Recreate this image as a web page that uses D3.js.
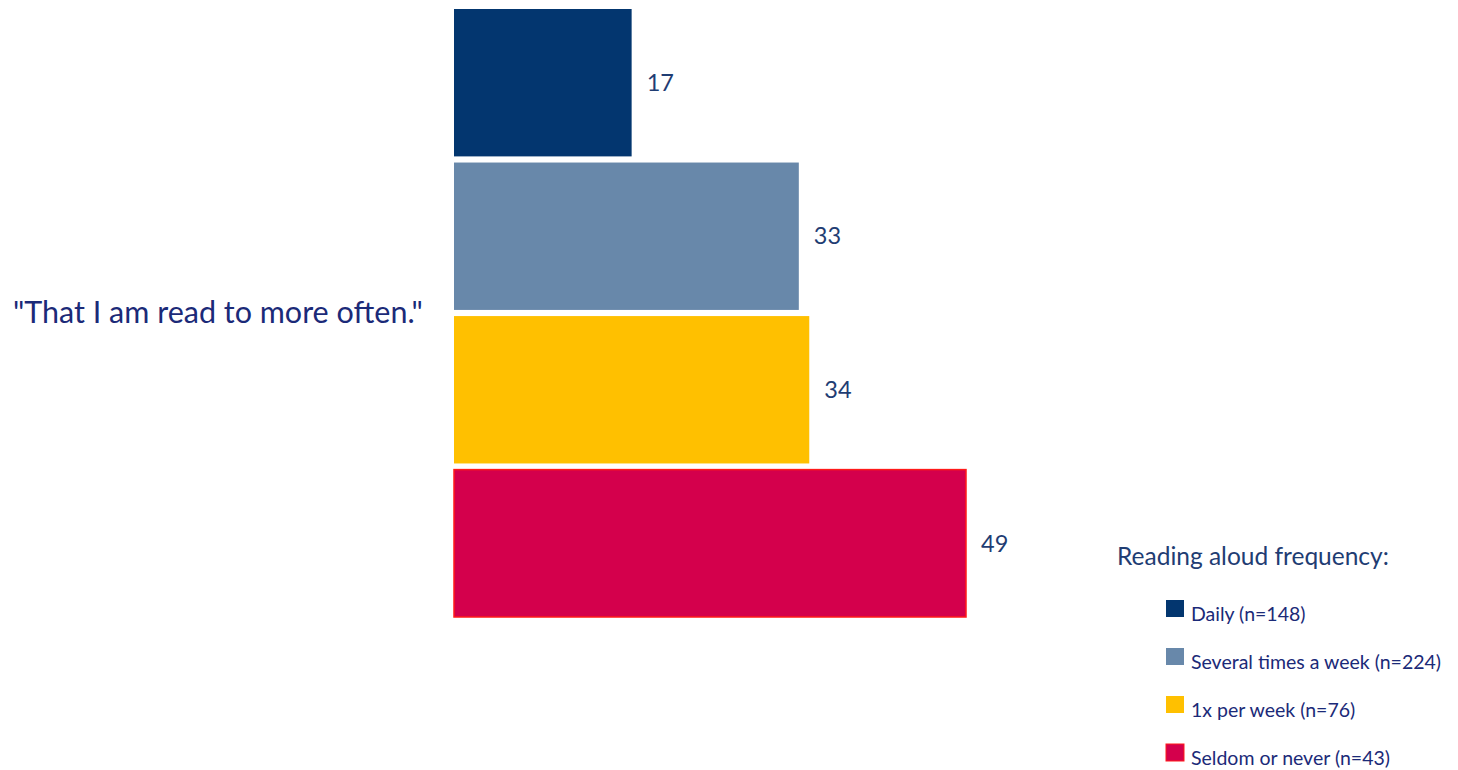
<!DOCTYPE html>
<html>
<head>
<meta charset="utf-8">
<script src="https://cdn.jsdelivr.net/npm/d3@7"></script>
<style>
  body { margin: 0; background: #fff; }
  text { font-family: Lato, "Noto Sans", sans-serif; }
</style>
</head>
<body>
<div id="chart"></div>
<script>
// data
const categories = ["Daily (n=148)", "Several times a week (n=224)", "1x per week (n=76)", "Seldom or never (n=43)"];
const values = [17, 33, 34, 49];
const colors = ["#03366f", "#6888aa", "#ffc000", "#d4004c"];
const question = "\"That I am read to more often.\"";
const legendTitle = "Reading aloud frequency:";

const width = 1458, height = 770;

const svg = d3.select("#chart")
    .append("svg")
    .attr("width", width)
    .attr("height", height);

let x = d3.scaleLinear()
    .domain([0, 49])
    .range([454, 966]);

let y = d3.scaleBand()
    .domain(categories)
    .range([9, 617])
    .paddingInner(0.04)
    .paddingOuter(0);

svg.append("g").selectAll("rect")
    .data(values)
    .enter().append("rect")
    .attr("x", x(0))
    .attr("y", (d, i) => y(categories[i]))
    .attr("width", d => x(d) - x(0))
    .attr("height", y.bandwidth())
    .attr("fill", (d, i) => colors[i])
    .attr("stroke", (d, i) => i == 3 ? "#ff1a1a" : "none")
    .attr("stroke-width", 1.5);

// value labels
svg.append("g").selectAll("text")
    .data(values)
    .enter().append("text")
    .attr("x", d => x(d) + 15)
    .attr("y", (d, i) => y(categories[i]) + y.bandwidth() / 2)
    .attr("dy", "0.35em")
    .attr("font-size", 23.5)
    .attr("fill", "#1f3d73")
    .text(d => d);

// question label
svg.append("text")
    .attr("x", 13)
    .attr("y", 312)
    .attr("dy", "0.35em")
    .attr("font-size", 30.5)
    .attr("fill", "#1b2a78")
    .text(question);

// legend
svg.append("text")
    .attr("x", 1117)
    .attr("y", 565)
    .attr("font-size", 24.5)
    .attr("fill", "#1f3d73")
    .text(legendTitle);

const legend = svg.append("g").selectAll("g")
    .data(categories)
    .enter().append("g")
    .attr("transform", (d, i) => "translate(1166," + (600 + i * 48) + ")");

legend.append("rect")
    .attr("width", 18)
    .attr("height", 17)
    .attr("fill", (d, i) => colors[i])
    .attr("stroke", (d, i) => i == 3 ? "#ff1a1a" : "none")
    .attr("stroke-width", 1);

legend.append("text")
    .attr("x", 25)
    .attr("y", 21)
    .attr("font-size", 19.5)
    .attr("fill", "#1b2a78")
    .text(d => d);
</script>
</body>
</html>
